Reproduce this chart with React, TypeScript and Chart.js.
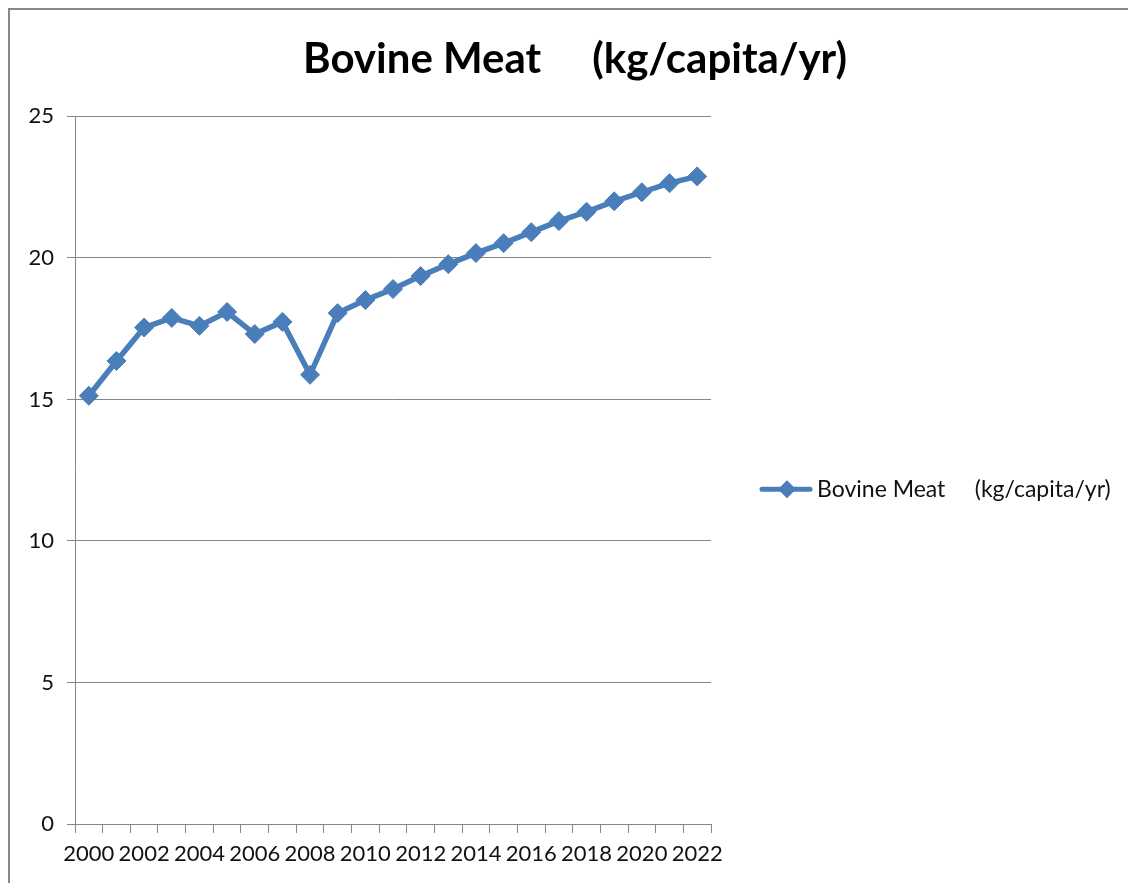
import { useEffect, useRef } from 'react'
import { Chart, ChartConfiguration, Plugin, registerables } from 'chart.js'

Chart.register(...registerables)

const years = [
    '2000', '2001', '2002', '2003', '2004', '2005', '2006', '2007',
    '2008', '2009', '2010', '2011', '2012', '2013', '2014', '2015',
    '2016', '2017', '2018', '2019', '2020', '2021', '2022'
]

const bovineMeat = [
    15.13, 16.36, 17.54, 17.88, 17.6, 18.09, 17.31, 17.74,
    15.87, 18.05, 18.51, 18.9, 19.36, 19.78, 20.17, 20.52,
    20.91, 21.3, 21.63, 22.0, 22.32, 22.64, 22.88
]

const seriesLabel = 'Bovine Meat     (kg/capita/yr)'
const yTicks = [0, 5, 10, 15, 20, 25]

const BLUE = '#4A7EBB'
const GRID = '#868686'
const FONT = 'Lato, "Open Sans", sans-serif'

// Excel-like legend: a short line with a diamond on it, then the label
const sideLegend: Plugin<'line'> = {
    id: 'sideLegend',
    afterDraw(chart) {
        const { ctx, chartArea } = chart
        const ds = chart.data.datasets[0]
        const x0 = chartArea.right + 49
        const y = chart.height * 0.554
        ctx.save()
        ctx.strokeStyle = BLUE
        ctx.lineWidth = 5
        ctx.lineCap = 'round'
        ctx.beginPath()
        ctx.moveTo(x0 + 2, y)
        ctx.lineTo(x0 + 50, y)
        ctx.stroke()
        ctx.fillStyle = BLUE
        ctx.beginPath()
        ctx.moveTo(x0 + 27, y - 9)
        ctx.lineTo(x0 + 36, y)
        ctx.lineTo(x0 + 27, y + 9)
        ctx.lineTo(x0 + 18, y)
        ctx.closePath()
        ctx.fill()
        ctx.fillStyle = '#111'
        ctx.font = `23px ${FONT}`
        ctx.textBaseline = 'middle'
        ctx.fillText(String(ds.label), x0 + 57, y)
        ctx.restore()
    }
}

export default function App() {
    const canvasRef = useRef<HTMLCanvasElement>(null)
    const chartRef = useRef<Chart | null>(null)

    useEffect(() => {
        if (!canvasRef.current) return
        const ctx = canvasRef.current.getContext('2d')
        if (!ctx) return

        const config: ChartConfiguration<'line'> = {
            type: 'line',
            data: {
                labels: years,
                datasets: [{
                    label: seriesLabel,
                    data: bovineMeat,
                    borderColor: BLUE,
                    backgroundColor: BLUE,
                    borderWidth: 5.5,
                    pointStyle: 'rectRot',
                    pointRadius: 9.5,
                    pointBorderWidth: 1,
                    pointBackgroundColor: BLUE,
                    pointBorderColor: BLUE,
                    tension: 0
                }]
            },
            options: {
                responsive: false,
                animation: false,
                layout: {
                    padding: { left: 0, right: 0, top: 0, bottom: 0 }
                },
                scales: {
                    x: {
                        type: 'category',
                        offset: true,
                        grid: {
                            display: true,
                            offset: true,
                            drawOnChartArea: false,
                            drawTicks: true,
                            tickLength: 9,
                            color: GRID
                        },
                        border: { display: true, color: GRID },
                        ticks: {
                            autoSkip: false,
                            maxRotation: 0,
                            padding: 8,
                            color: '#111',
                            font: { family: FONT, size: 22 },
                            callback: (_v, i) => (i % 2 === 0 ? years[i] : '')
                        },
                        afterFit: (scale) => { scale.height = 59 }
                    },
                    y: {
                        min: 0,
                        max: 25,
                        afterBuildTicks: (scale) => {
                            scale.ticks = yTicks.map((v) => ({ value: v }))
                        },
                        grid: {
                            color: GRID,
                            tickLength: 8,
                            drawTicks: true
                        },
                        border: { display: true, color: GRID },
                        ticks: {
                            padding: 13,
                            color: '#111',
                            font: { family: FONT, size: 22 }
                        },
                        afterFit: (scale) => { scale.width = 75 }
                    },
                    // empty right-hand space reserved for the legend
                    legendSpace: {
                        type: 'linear',
                        position: 'right',
                        display: true,
                        grid: { display: false },
                        border: { display: false },
                        ticks: { display: false },
                        afterFit: (scale) => { scale.width = 439 }
                    }
                },
                plugins: {
                    legend: { display: false },
                    tooltip: { enabled: false },
                    title: {
                        display: true,
                        text: seriesLabel,
                        color: '#000',
                        font: { family: FONT, size: 42, weight: 'bold' },
                        padding: { top: 34, bottom: 32 }
                    }
                }
            },
            plugins: [sideLegend]
        }

        chartRef.current = new Chart(ctx, config)

        return () => {
            if (chartRef.current) {
                chartRef.current.destroy()
            }
        }
    }, [])

    return (
        <div style={{ position: 'fixed', left: 0, top: 0, width: 1128, height: 883, overflow: 'hidden', background: '#fff' }}>
            <canvas ref={canvasRef} width={1150} height={883} style={{ display: 'block' }} aria-label="Bovine Meat chart" role="img"></canvas>
            <div style={{ position: 'absolute', left: 8, top: 8, width: 1200, height: 1000, border: '2px solid #888', pointerEvents: 'none' }} />
        </div>
    )
}
